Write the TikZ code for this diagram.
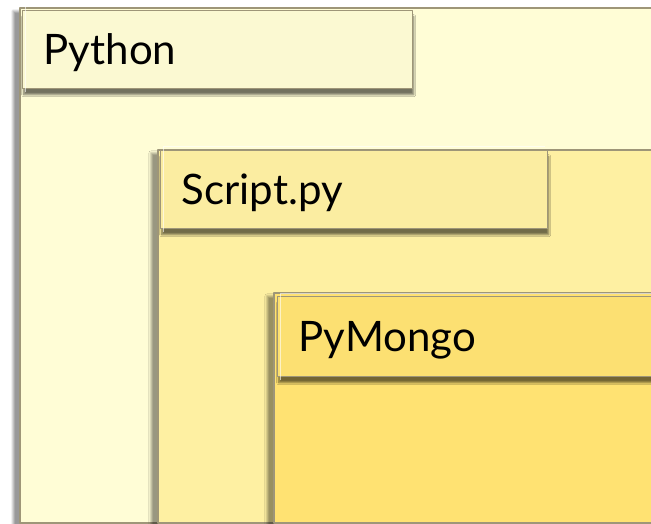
\documentclass[tikz,border=0pt]{standalone}
\usepackage{fontspec}
\setmainfont{Lato}
\usetikzlibrary{shadows.blur}
\definecolor{pyfill}{HTML}{FFFDD6}
\definecolor{scfill}{HTML}{FEF0A2}
\definecolor{pmfill}{HTML}{FFE272}
\definecolor{edge}{HTML}{9E9678}
\begin{document}
\begin{tikzpicture}[x=1pt, y=-1pt, line join=round]
	\tikzset{region/.style={draw=edge, line width=1.8pt, blur shadow={shadow xshift=-7pt, shadow yshift=-3pt, shadow blur steps=10, shadow opacity=40}},
		tag/.style={draw=edge, line width=1.4pt, anchor=north west, inner sep=0pt, align=left, text height=34pt, text depth=5pt,
			font=\fontsize{42}{48}\selectfont, text=black, blur shadow={shadow xshift=1pt, shadow yshift=-6pt, shadow blur steps=6, shadow opacity=55}},
		bevel/.style={draw=white, opacity=0.6, line width=1pt}}
	\useasboundingbox (0,0) rectangle (651,524);
	\clip (0,0) rectangle (651,524);
	\def\xmax{700}\def\ybot{523}
	% regions
	\draw[region, fill=pyfill] (20,8) rectangle (\xmax,\ybot);
	\draw[region, fill=scfill] (158,150) rectangle (\xmax,\ybot);
	\draw[region, fill=pmfill] (274,293) rectangle (\xmax,\ybot);
	% labels
	\node[tag, fill=pyfill!96!edge, minimum width=390pt, minimum height=78pt, text width=380pt] (python) at (22,10) {\hspace{16pt}Python};
	\node[tag, fill=scfill!97!edge, minimum width=387pt, minimum height=78pt, text width=377pt] (script) at (160,150) {\hspace{16pt}Script.py};
	\node[tag, fill=pmfill!97!edge, minimum width=400pt, minimum height=80pt, text width=390pt] (pymongo) at (277,296) {\hspace{16pt}PyMongo};
	% bevels
	\foreach \n in {python,script,pymongo}
		\draw[bevel] ([shift={(3pt,-3pt)}]\n.south west) -- ([shift={(3pt,3pt)}]\n.north west) -- ([shift={(-3pt,3pt)}]\n.north east);
\end{tikzpicture}
\end{document}
